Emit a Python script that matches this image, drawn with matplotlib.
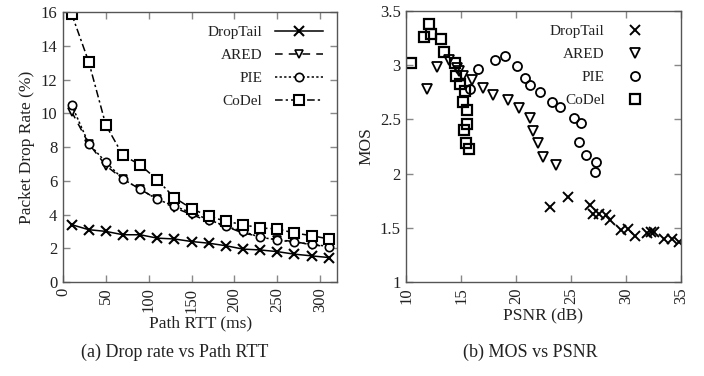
import matplotlib
matplotlib.use("Agg")
import matplotlib.pyplot as plt
from matplotlib.ticker import FuncFormatter

plt.rcParams['font.family'] = ['Liberation Serif', 'DejaVu Serif']

# ---- Panel (a) data ----
rtt = [10, 30, 50, 70, 90, 110, 130, 150, 170, 190, 210, 230, 250, 270, 290, 310]
drop_droptail = [3.4, 3.1, 3.0, 2.8, 2.8, 2.6, 2.55, 2.4, 2.3, 2.15, 1.95, 1.9, 1.8, 1.65, 1.55, 1.45]
drop_ared = [10.1, 8.2, 6.9, 6.1, 5.5, 4.9, 4.4, 4.0, 3.6, 3.3, 2.9, 2.7, 2.5, 2.4, 2.2, 2.1]
drop_pie = [10.5, 8.2, 7.1, 6.1, 5.5, 4.9, 4.5, 4.1, 3.7, 3.3, 3.0, 2.65, 2.5, 2.35, 2.25, 2.1]
drop_codel = [15.9, 13.05, 9.3, 7.5, 6.95, 6.05, 5.0, 4.35, 3.9, 3.6, 3.4, 3.2, 3.15, 2.9, 2.75, 2.55]

# ---- Panel (b) data ----
psnr_droptail = [23.1, 24.7, 26.7, 27.0, 27.6, 28.2, 28.6, 29.6, 30.2, 30.8, 31.9, 32.3, 32.6, 33.5, 34.2, 34.8]
mos_droptail = [1.69, 1.78, 1.71, 1.63, 1.63, 1.62, 1.57, 1.48, 1.49, 1.42, 1.45, 1.46, 1.46, 1.40, 1.40, 1.37]
psnr_ared = [11.9, 12.8, 13.9, 14.6, 14.8, 15.2, 16.0, 17.0, 17.9, 19.3, 20.3, 21.3, 21.5, 22.0, 22.5, 23.6]
mos_ared = [2.78, 2.98, 3.05, 2.97, 2.95, 2.90, 2.86, 2.79, 2.72, 2.68, 2.60, 2.51, 2.39, 2.28, 2.15, 2.08]
psnr_pie = [15.8, 16.5, 18.1, 19.0, 20.1, 20.8, 21.3, 22.2, 23.3, 24.0, 25.3, 25.9, 25.7, 26.4, 27.3, 27.2]
mos_pie = [2.78, 2.96, 3.05, 3.08, 2.99, 2.88, 2.82, 2.75, 2.66, 2.61, 2.51, 2.47, 2.29, 2.17, 2.11, 2.01]
psnr_codel = [10.4, 12.1, 11.6, 12.3, 13.2, 13.4, 14.4, 14.55, 14.9, 15.35, 15.15, 15.5, 15.5, 15.3, 15.4, 15.75]
mos_codel = [3.02, 3.38, 3.26, 3.29, 3.24, 3.12, 3.02, 2.90, 2.83, 2.76, 2.66, 2.59, 2.46, 2.40, 2.28, 2.23]

labels = ['DropTail', 'ARED', 'PIE', 'CoDel']
text_color = '#222222'
spine_color = '#555555'

fig = plt.figure(figsize=(7.04, 3.76), dpi=100)
ax1 = fig.add_axes([0.0895, 0.25, 0.479 - 0.0895, 0.968 - 0.25])
ax2 = fig.add_axes([0.577, 0.25, 0.967 - 0.577, 0.971 - 0.25])

def style(ax):
    for s in ax.spines.values():
        s.set_color(spine_color)
        s.set_linewidth(1.0)
    ax.tick_params(direction='in', top=True, right=True, length=5, width=1.0,
                   color='#888888', labelcolor=text_color, labelsize=12, pad=4)
    for lab in ax.get_xticklabels():
        lab.set_rotation(90)

# Panel (a)
ax1.plot(rtt, drop_droptail, color='black', linestyle='-', marker='x', ms=7, mew=1.5, lw=1.1, label=labels[0])
ax1.plot(rtt, drop_ared, color='black', linestyle=(0, (5, 4)), marker='v', ms=6, mew=1.2, mfc='white', lw=1.1, label=labels[1])
ax1.plot(rtt, drop_pie, color='black', linestyle=(0, (1.5, 1.5)), marker='o', ms=6, mew=1.2, mfc='white', lw=1.1, label=labels[2])
ax1.plot(rtt, drop_codel, color='black', linestyle=(0, (5, 2, 1.5, 2)), marker='s', ms=7, mew=1.5, mfc='white', lw=1.1, label=labels[3])
ax1.set_xlim(0, 320)
ax1.set_ylim(0, 16)
ax1.set_xticks([0, 50, 100, 150, 200, 250, 300])
ax1.set_yticks(range(0, 17, 2))
ax1.set_xlabel('Path RTT (ms)', fontsize=12.5, color=text_color, labelpad=2)
ax1.set_ylabel('Packet Drop Rate (%)', fontsize=12.5, color=text_color, labelpad=4)
style(ax1)
leg1 = ax1.legend(loc='upper right', bbox_to_anchor=(1.0, 1.0), frameon=False, markerfirst=False,
                  fontsize=11, handlelength=3.2, labelspacing=0.6, handletextpad=0.8, borderaxespad=0.5)
for t in leg1.get_texts():
    t.set_color(text_color)

# Panel (b)
ax2.plot(psnr_droptail, mos_droptail, linestyle='none', color='black', marker='x', ms=7, mew=1.4, label=labels[0])
ax2.plot(psnr_ared, mos_ared, linestyle='none', color='black', marker='v', ms=6.5, mew=1.3, mfc='none', label=labels[1])
ax2.plot(psnr_pie, mos_pie, linestyle='none', color='black', marker='o', ms=6.5, mew=1.3, mfc='none', label=labels[2])
ax2.plot(psnr_codel, mos_codel, linestyle='none', color='black', marker='s', ms=7, mew=1.6, mfc='none', label=labels[3])
ax2.set_xlim(10, 35)
ax2.set_ylim(1, 3.5)
ax2.set_xticks([10, 15, 20, 25, 30, 35])
ax2.set_yticks([1, 1.5, 2, 2.5, 3, 3.5])
ax2.yaxis.set_major_formatter(FuncFormatter(lambda v, p: ('%g' % v)))
ax2.set_xlabel('PSNR (dB)', fontsize=12.5, color=text_color, labelpad=2)
ax2.set_ylabel('MOS', fontsize=12.5, color=text_color, labelpad=4)
style(ax2)
leg2 = ax2.legend(loc='upper right', bbox_to_anchor=(0.94, 1.0), frameon=False, markerfirst=False,
                  fontsize=11, handlelength=2.0, labelspacing=0.6, handletextpad=1.0, borderaxespad=0.5)
for t in leg2.get_texts():
    t.set_color(text_color)

fig.text(175 / 704, 1 - 352 / 376, '(a) Drop rate vs Path RTT', ha='center', va='center', fontsize=13, color=text_color)
fig.text(530 / 704, 1 - 352 / 376, '(b) MOS vs PSNR', ha='center', va='center', fontsize=13, color=text_color)

fig.savefig('out.png', dpi=100)
